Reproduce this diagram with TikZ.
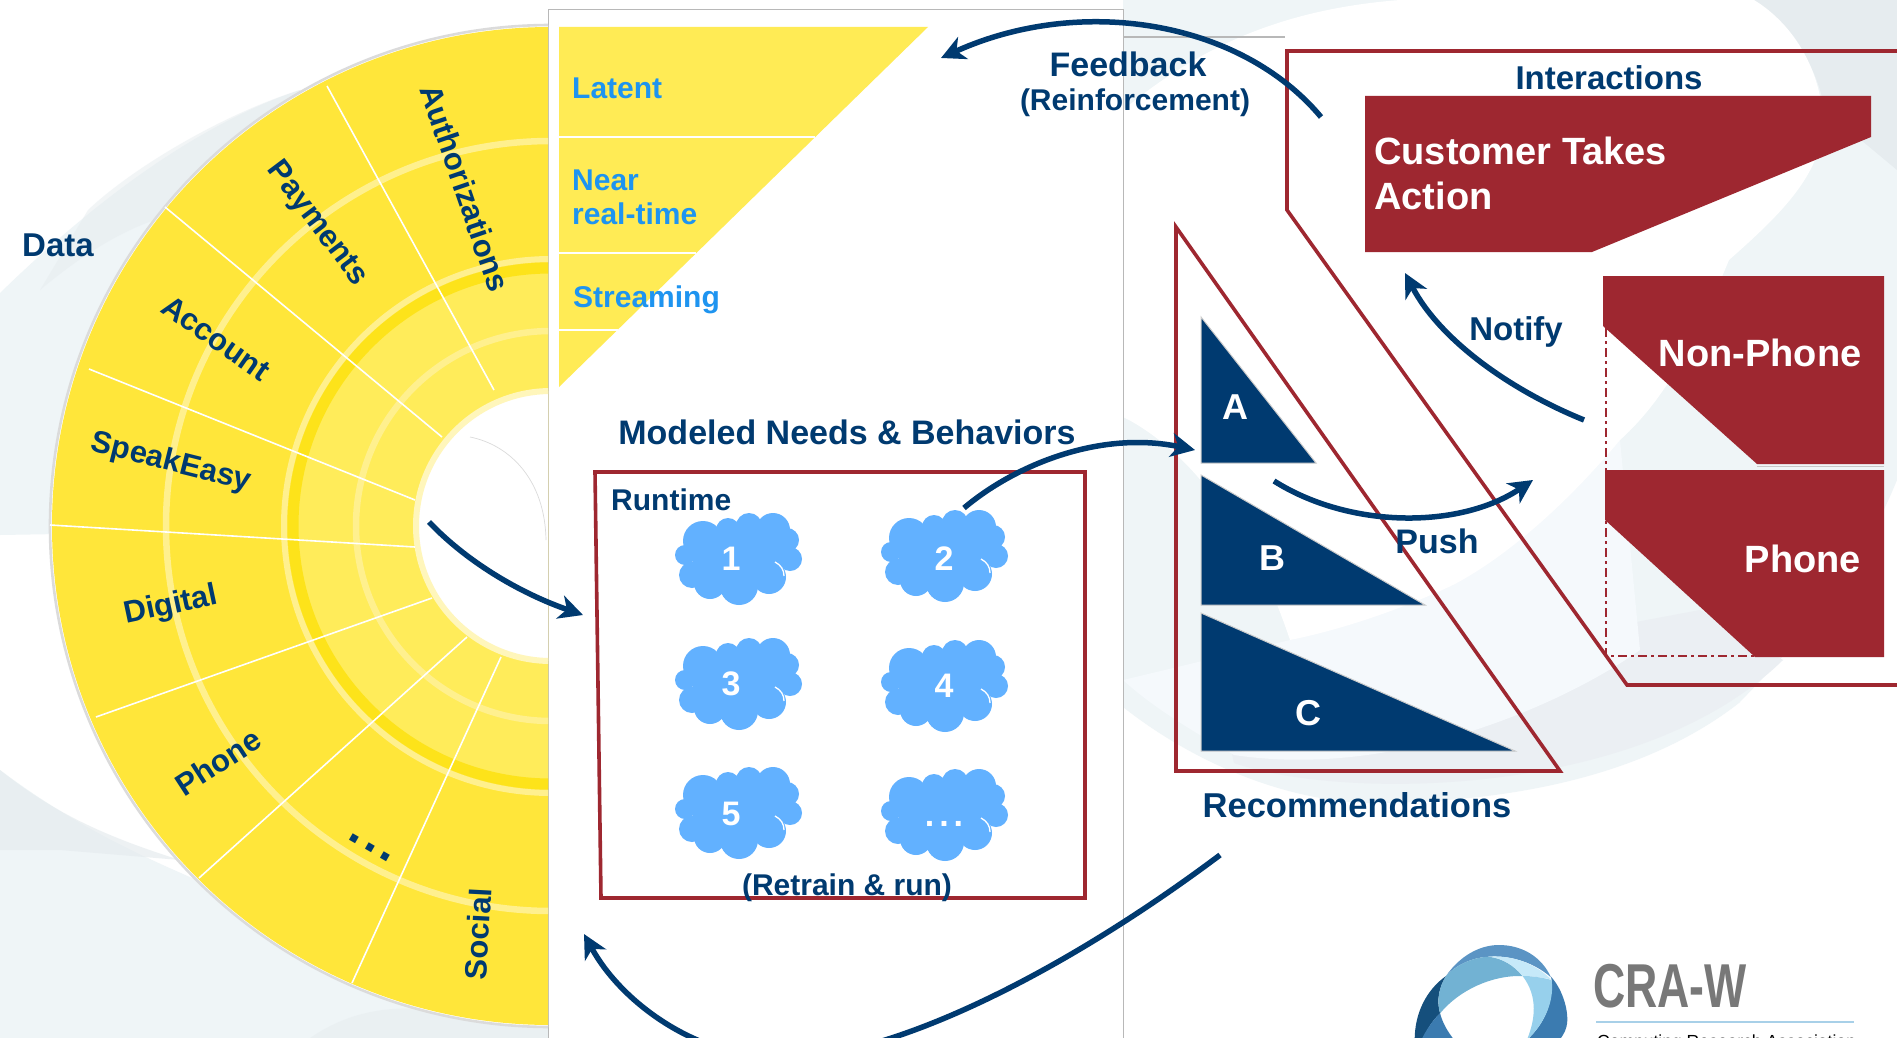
\documentclass[tikz,border=0pt]{standalone}
\usepackage{fontspec}
\setmainfont{Liberation Sans}[BoldFont={Liberation Sans Bold}]
\usetikzlibrary{arrows.meta}
\definecolor{navy}{HTML}{003A70}
\definecolor{crimson}{HTML}{9E2730}
\definecolor{skyfill}{HTML}{62B1FF}
\definecolor{skytext}{HTML}{1E94F0}
\definecolor{fanout}{HTML}{FFE63A}
\definecolor{fanin}{HTML}{FFEC5A}
\definecolor{fanband}{HTML}{FDE31A}
\definecolor{fanring}{HTML}{FFF08E}
\definecolor{tri}{HTML}{FFEB55}
\definecolor{bgA}{HTML}{EFF5F7}
\definecolor{bgB}{HTML}{E6ECEF}
\definecolor{bgC}{HTML}{F5F9FC}
\definecolor{bgD}{HTML}{EBEFF3}
\definecolor{logoA}{HTML}{154F7C}
\definecolor{logoB}{HTML}{3B7BB0}
\definecolor{logoC}{HTML}{5B94C4}
\definecolor{logoD}{HTML}{72B2D3}
\definecolor{logoE}{HTML}{C6E9F9}
\definecolor{logoF}{HTML}{97D0EC}
\definecolor{logoRule}{HTML}{A8D0E8}
\newcommand{\fs}[1]{\fontsize{#1}{#1}\selectfont\bfseries}
\newcommand{\cloudblob}[2]{%
 \begin{scope}[shift={(#1,#2)}]
  \fill[skyfill] (0,0) ellipse [x radius=46,y radius=31];
  \foreach \a/\b/\r in {-35/-16/20,-10/-27/12,11/-31/13,35/-27/17,49/-17/12,52/2/12,-53/-2/10,-46/18/13,-28/26/16,1/29/19,31/20/17}{
   \fill[skyfill] (\a,\b) circle [radius=\r];}
  \draw[white,line width=1.3] (37,5) .. controls (43,8) and (46,13) .. (46,19);
 \end{scope}}
\tikzset{
 fanlabel/.style={text=navy,font=\fs{31},inner sep=0},
 head/.style={text=navy,font=\fs{34},inner sep=0},
 sub/.style={text=navy,font=\fs{30},inner sep=0},
 rate/.style={text=skytext,font=\fs{30},inner sep=0,anchor=west},
 onred/.style={text=white,font=\fs{38},inner sep=0},
 ontri/.style={text=white,font=\fs{36},inner sep=0},
 oncloud/.style={text=white,font=\fs{34},inner sep=0},
 flow/.style={draw=navy,line width=5.5,-{Stealth[length=24,width=24,inset=7]}},
 spoke/.style={draw=white,line width=1.6},
 redline/.style={draw=crimson,line width=3.6},
 navytri/.style={fill=navy,draw=black!20,line width=1},
 redshape/.style={fill=crimson},
}
\begin{document}
\begin{tikzpicture}[x=1pt,y=-1pt]
\clip (0,0) rectangle (1897,1038);
\fill[white] (0,0) rectangle (1897,1038);
% background swooshes: left
\fill[bgA] (0,293) .. controls (70,225) and (180,130) .. (300,90) -- (300,530) -- (0,535) -- cycle;
\fill[bgB,opacity=.5] (88,210) .. controls (130,170) and (220,115) .. (300,90) -- (200,210) .. controls (150,215) and (100,240) .. (40,290) -- cycle;
\fill[bgA] (0,770) .. controls (80,830) and (150,860) .. (220,890) -- (560,900) -- (560,1038) -- (0,1038) -- cycle;
\fill[bgB,opacity=.7] (0,770) .. controls (50,810) and (100,835) .. (180,860) -- (60,850) -- (0,850) -- cycle;
\fill[bgB,opacity=.5] (310,1038) .. controls (380,990) and (450,1010) .. (560,1030) -- (560,1038) -- cycle;
% background swooshes: right
\fill[bgA] (1123,0) -- (1897,0) -- (1897,480) .. controls (1860,570) and (1810,630) .. (1739,703) .. controls (1640,780) and (1500,803) .. (1367,803) .. controls (1280,800) and (1190,760) .. (1123,707) -- cycle;
\fill[bgD] (1234,763) .. controls (1340,800) and (1640,800) .. (1783,660) -- (1700,610) -- (1220,700) -- cycle;
\fill[bgC] (1123,680) -- (1290,640) -- (1453,585) -- (1620,440) -- (1640,650) .. controls (1570,700) and (1400,780) .. (1234,755) .. controls (1190,730) and (1150,705) .. (1123,680) -- cycle;
\fill[bgB] (1750,0) .. controls (1790,25) and (1815,60) .. (1825,110) -- (1897,170) -- (1897,0) -- cycle;
\fill[white] (1123,110) .. controls (1190,55) and (1270,10) .. (1400,0) -- (1754,0) .. controls (1795,25) and (1825,75) .. (1823,133) .. controls (1815,180) and (1780,215) .. (1729,260) .. controls (1700,330) and (1670,395) .. (1620,440) .. controls (1570,500) and (1510,555) .. (1453,585) .. controls (1400,610) and (1340,630) .. (1290,640) .. controls (1270,580) and (1240,520) .. (1203,483) .. controls (1180,455) and (1150,430) .. (1123,417) -- cycle;
% white panel
\fill[white] (548,10) rectangle (1123,1040);
\draw[black!28,line width=1] (548,1040) -- (548,10) -- (1123,10) -- (1123,1040);
\draw[black!28,line width=1.6] (1123,37) -- (1285,37);
% fan
\begin{scope}
 \clip (0,0) rectangle (548,1038);
 \draw[black!14,line width=2.6,fill=white] (551,526) circle [radius=501];
 \fill[fanout] (551,526) circle [radius=499];
 \draw[fanring,line width=6.5] (551,526) circle [radius=385];
 \fill[fanin] (551,526) circle [radius=262];
 \draw[fanband,line width=11] (551,526) circle [radius=258];
 \draw[fanring,line width=6] (551,526) circle [radius=267];
 \draw[fanring,line width=6.5] (551,526) circle [radius=195];
 \draw[fanring!60!white,line width=6,fill=white] (551,526) circle [radius=135];
 \draw[black!14,line width=.7] (470,437) .. controls (510,445) and (545,480) .. (546,540);
\end{scope}
\draw[spoke] (327,86) -- (494,390);
\draw[spoke] (165,207) -- (442,437);
\draw[spoke] (89,369) -- (415,500);
\draw[spoke] (50,525) -- (415,547);
\draw[spoke] (96,717) -- (432,598);
\draw[spoke] (199,878) -- (467,637);
\draw[spoke] (352,983) -- (501,657);
\node[head,font=\fs{33},anchor=west] (data) at (22,245) {Data};
\node[fanlabel,rotate=-71] (authz) at (465,188) {Authorizations};
\node[fanlabel,rotate=-53] (pay) at (317,224) {Payments};
\node[fanlabel,rotate=-35] (acct) at (216,338) {Account};
\node[fanlabel,rotate=-14] (speak) at (171,463) {SpeakEasy};
\node[fanlabel,rotate=12] (dig) at (171,606) {Digital};
\node[fanlabel,rotate=33] (ph) at (218,762) {Phone};
\node[fanlabel,font=\fs{50},rotate=-30] (dots) at (370,848) {.\kern4pt.\kern4pt.};
\node[fanlabel,rotate=87] (soc) at (478,934) {Social};
% yellow triangle
\fill[tri] (559,27) -- (928,27) -- (559,387) -- cycle;
\draw[white,line width=1.5] (559,137) -- (815,137);
\draw[white,line width=1.5] (559,253) -- (696,253);
\draw[white,line width=1.5] (559,330) -- (618,330);
\node[rate] (lat) at (572,88) {Latent};
\node[rate] (near) at (572,180) {Near};
\node[rate] (real) at (572,214) {real-time};
\node[rate] (str) at (573,300) {Streaming};
% runtime box
\draw[redline] (595,472) -- (1085,472) -- (1085,898) -- (601,898) -- cycle;
\node[head] (model) at (847,432) {Modeled Needs \& Behaviors};
\node[sub,anchor=west] (run) at (611,500) {Runtime};
\cloudblob{738}{557}\cloudblob{944}{554}\cloudblob{738}{682}\cloudblob{944}{684}\cloudblob{738}{811}\cloudblob{944}{813}
\node[oncloud] (c1) at (731,559) {1};
\node[oncloud] (c2) at (944,559) {2};
\node[oncloud] (c3) at (731,684) {3};
\node[oncloud] (c4) at (944,686) {4};
\node[oncloud] (c5) at (731,814) {5};
\node[oncloud] (c6) at (944,824) {.\kern5pt.\kern5pt.};
\node[sub] (retrain) at (847,888) {(Retrain \& run)};
% recommendations
\draw[redline] (1176,227) -- (1560,771) -- (1176,771) -- cycle;
\draw[navytri] (1201,317) -- (1316,463) -- (1201,463) -- cycle;
\draw[navytri] (1201,475) -- (1425,605) -- (1201,605) -- cycle;
\draw[navytri] (1201,613) -- (1515,751) -- (1201,751) -- cycle;
\node[ontri] (A) at (1235,407) {A};
\node[ontri] (B) at (1272,558) {B};
\node[ontri] (C) at (1308,713) {C};
\node[head,font=\fs{34.5}] (rec) at (1357,805) {Recommendations};
% interactions
\draw[redline] (1900,51) -- (1287,51) -- (1287,210) -- (1627,685) -- (1900,685);
\node[head,font=\fs{33}] (inter) at (1609,78) {Interactions};
\fill[redshape] (1365,96) -- (1871,96) -- (1871,137) -- (1592,252) -- (1365,252) -- cycle;
\node[onred,anchor=west] (cust) at (1374,151) {Customer Takes};
\node[onred,anchor=west] (act) at (1374,196) {Action};
\fill[redshape] (1603,276) -- (1884,276) -- (1884,464) -- (1757,464) -- (1603,326) -- cycle;
\fill[redshape] (1605,470) -- (1884,470) -- (1884,657) -- (1755,657) -- (1605,520) -- cycle;
\draw[black!22,line width=1] (1757,466) -- (1884,466);
\draw[crimson,line width=1.8,dash pattern=on 9pt off 4pt on 3pt off 4pt] (1606,328) -- (1606,656) -- (1755,656);
\node[onred] (non) at (1760,353) {Non-Phone};
\node[onred] (phn) at (1803,559) {Phone};
\node[head,font=\fs{33}] (notify) at (1516,332) {Notify};
\node[head] (push) at (1437,541) {Push};
\node[head] (fb) at (1128,64) {Feedback};
\node[sub] (reinf) at (1135,103) {(Reinforcement)};
% connector ends
\coordinate (fbS) at (1321,117); \coordinate (fbE) at (941,58);
\coordinate (hubS) at (429,522); \coordinate (hubE) at (583,615);
\coordinate (c2S) at (964,508); \coordinate (aE) at (1195,450);
\coordinate (pS) at (1274,481); \coordinate (pE) at (1533,480);
\coordinate (nS) at (1584,420); \coordinate (nE) at (1405,273);
\coordinate (rS) at (1220,855); \coordinate (rE) at (584,934);
\draw[flow] (fbS) .. controls (1240,20) and (1080,-5) .. (fbE);
\draw[flow] (hubS) .. controls (470,565) and (525,595) .. (hubE);
\draw[flow] (c2S) .. controls (1015,465) and (1100,430) .. (aE);
\draw[flow] (pS) .. controls (1350,529) and (1460,529) .. (pE);
\draw[flow] (nS) .. controls (1510,390) and (1440,340) .. (nE);
\draw[flow] (rS) .. controls (1060,975) and (880,1065) .. (770,1058) .. controls (690,1053) and (620,1000) .. (rE);
% logo
\begin{scope}[shift={(1380,900)},x=.33pt,y=-.3333pt]
 \clip (0,135) rectangle (600,420);
 \fill[logoA] (200,228) .. controls (140,270) and (105,340) .. (105,420) -- (130,420) .. controls (140,390) and (160,360) .. (182,340) .. controls (170,300) and (180,260) .. (200,228) -- cycle;
 \fill[logoB] (518,230) .. controls (555,270) and (575,340) .. (565,380) .. controls (560,400) and (550,410) .. (545,420) -- (445,420) .. controls (490,380) and (525,320) .. (520,240) -- cycle;
 \fill[logoB] (182,340) .. controls (190,370) and (205,395) .. (225,420) -- (125,420) .. controls (140,390) and (160,360) .. (182,340) -- cycle;
 \fill[logoC] (200,228) .. controls (240,170) and (300,135) .. (360,135) .. controls (430,135) and (490,170) .. (518,232) .. controls (470,190) and (400,165) .. (330,170) .. controls (280,172) and (230,195) .. (200,228) -- cycle;
 \fill[logoD] (200,228) .. controls (230,195) and (280,172) .. (330,170) .. controls (370,175) and (405,195) .. (432,228) .. controls (340,225) and (240,270) .. (182,340) .. controls (170,300) and (180,260) .. (200,228) -- cycle;
 \fill[logoE] (330,170) .. controls (400,165) and (470,190) .. (518,238) .. controls (490,232) and (460,228) .. (432,228) .. controls (405,195) and (370,175) .. (330,170) -- cycle;
 \fill[logoF] (432,228) .. controls (460,228) and (490,232) .. (520,240) .. controls (530,310) and (490,380) .. (445,420) .. controls (470,360) and (480,290) .. (432,228) -- cycle;
\end{scope}
\node[text=black!53,font=\fs{62},inner sep=0,xscale=.72,anchor=base west] (cra) at (1593,1007) {CRA-W};
\coordinate (ruleL) at (1596,1022); \coordinate (ruleR) at (1854,1022);
\draw[logoRule,line width=1.6] (ruleL) -- (ruleR);
\node[text=black,font=\fontsize{17.5}{17.5}\selectfont,inner sep=0,anchor=base west] (assoc) at (1597,1047) {Computing Research Association};
\end{tikzpicture}
\end{document}
